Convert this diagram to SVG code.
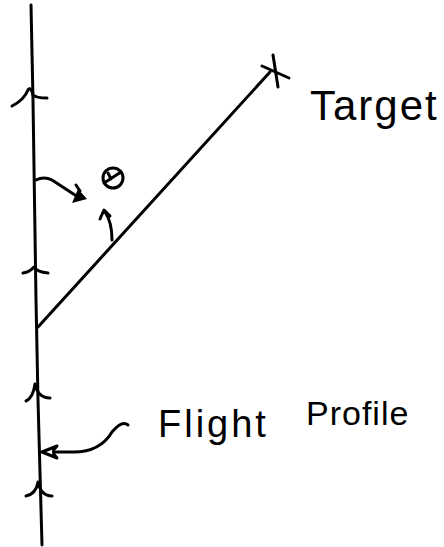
<svg xmlns="http://www.w3.org/2000/svg" width="444" height="547" viewBox="0 0 444 547">
<style>
.s{fill:none;stroke:#000;stroke-width:3;stroke-linecap:round;stroke-linejoin:round}
.t{font-family:"Liberation Sans",sans-serif;fill:#000}
</style>
<rect width="444" height="547" fill="#fff"/>
<g id="connectors">
<path class="s" d="M31 5 L33 100 L36 300 L38 400 L42 545" stroke-width="3.2"/>
<path class="s" d="M12 106 Q24 100 28 90 Q31 86 33 95 Q36 98 47 98"/>
<path class="s" d="M23 273 Q30 272 34 267 Q37 272 48 273"/>
<path class="s" d="M26 401 Q33 398 35 384 Q38 398 50 398"/>
<path class="s" d="M26 496 Q36 494 38 482 Q41 496 52 496"/>
<path class="s" d="M38 327 L270 72"/>
<path class="s" d="M36 180 Q44 176 52 180 L78 197"/>
<path d="M72 203 L87 199 L78 189 Z" fill="#000"/>
<path class="s" d="M76 185 L80 191"/>
<path class="s" d="M112 240 Q112 222 105 212 M100 219 L104 210 L110 216"/>
<path class="s" d="M128 425 Q122 420 112 432 Q100 452 74 452 L56 452"/>
<path class="s" d="M57 446 L42 452 L57 458 Q50 452 57 446"/>
</g>
<g id="target">
<path class="s" d="M273 55 L278 87 M262 66 L289 78"/>
<text class="t" x="310" y="120" font-size="42" letter-spacing="2">Target</text>
</g>
<g id="theta">
<circle class="s" cx="113" cy="178" r="10"/>
<path class="s" d="M104 183 L121 172 M108 173 L111 179"/>
</g>
<g id="flight-profile">
<text class="t" x="158" y="437" font-size="38" letter-spacing="3">Flight</text>
<text class="t" x="306" y="425" font-size="34" letter-spacing="1">Profile</text>
</g>
</svg>
